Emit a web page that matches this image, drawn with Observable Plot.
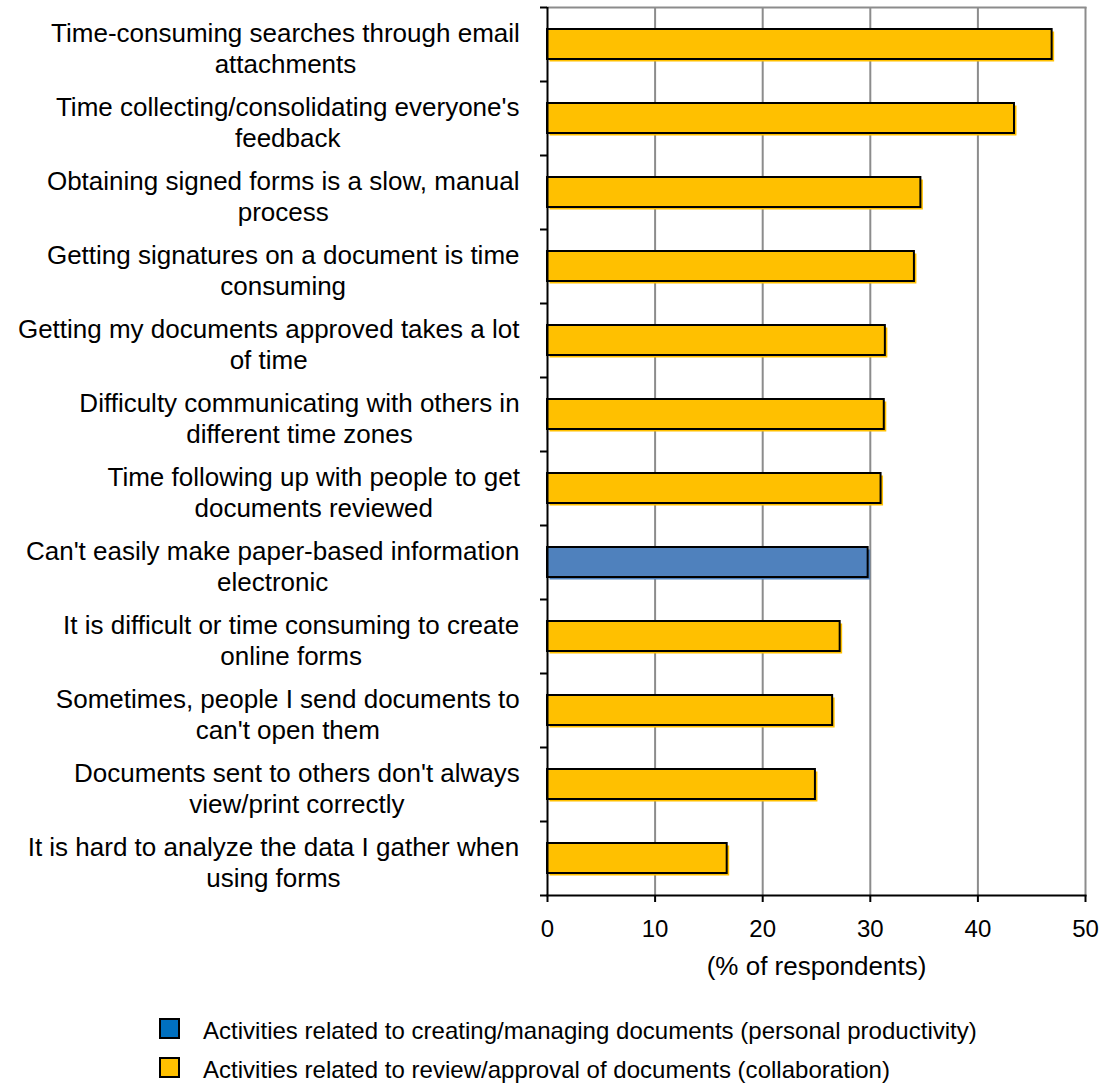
<!DOCTYPE html>
<html>
<head>
<meta charset="utf-8">
<script src="https://cdn.jsdelivr.net/npm/d3@7"></script>
<script src="https://cdn.jsdelivr.net/npm/@observablehq/plot@0.6"></script>
<style>
  html, body { margin: 0; padding: 0; background: #fff; overflow: hidden; }
  body { font-family: "Liberation Sans", Arial, sans-serif; color: #000; }
  #legend { padding-left: 159px; padding-top: 9px; }
  .row { display: flex; align-items: center; height: 39px; }
  .sw { box-sizing: border-box; width: 21px; height: 21px; border: 2px solid #000; flex: none; }
  .lt { margin-left: 23px; font-size: 24px; position: relative; top: 2px; white-space: nowrap; letter-spacing: 0.02px; }
</style>
</head>
<body>
<div id="chart"></div>
<div id="legend"></div>
<script>
// ---- data ----
const categories = [
  "Time-consuming searches through email\nattachments",
  "Time collecting/consolidating everyone's\nfeedback",
  "Obtaining signed forms is a slow, manual\nprocess",
  "Getting signatures on a document is time\nconsuming",
  "Getting my documents approved takes a lot\nof time",
  "Difficulty communicating with others in\ndifferent time zones",
  "Time following up with people to get\ndocuments reviewed",
  "Can't easily make paper-based information\nelectronic",
  "It is difficult or time consuming to create\nonline forms",
  "Sometimes, people I send documents to\ncan't open them",
  "Documents sent to others don't always\nview/print correctly",
  "It is hard to analyze the data I gather when\nusing forms"
];
const values = [46.9, 43.4, 34.7, 34.1, 31.4, 31.3, 31.0, 29.8, 27.2, 26.5, 24.9, 16.7];
const groups = ["collab", "collab", "collab", "collab", "collab", "collab", "collab",
                "personal", "collab", "collab", "collab", "collab"];
const groupKeys = ["personal", "collab"];
const groupNames = [
  "Activities related to creating/managing documents (personal productivity)",
  "Activities related to review/approval of documents (collaboration)"
];
const barColors = ["#4F81BD", "#FFC000"];
const legendColors = ["#0070C0", "#FFC000"];
const xTicks = [0, 10, 20, 30, 40, 50];
const gridTicks = [10, 20, 30, 40, 50];
const xLabel = "(% of respondents)";

const data = categories.map((c, i) => ({category: c, value: values[i], group: groups[i]}));

// ---- layout ----
const W = 1106, H = 1000;
const mL = 547, mR = 21, mT = 7, mB = 105;
const step = (H - mT - mB) / categories.length;
const labelFont = 26;
const labelSpacing = 0.2;
const fontFamily = "'Liberation Sans', Arial, sans-serif";

const ctx = document.createElement("canvas").getContext("2d");
ctx.font = `${labelFont}px ${fontFamily}`;
const blockWidth = c => Math.max(...c.split("\n").map(l => ctx.measureText(l).width + l.length * labelSpacing));

const labelMarks = categories.map(c =>
  Plot.text([c], {
    x: () => 0, y: d => d, text: d => d,
    textAnchor: "middle", lineAnchor: "middle",
    fontSize: labelFont, lineHeight: 31 / labelFont, letterSpacing: `${labelSpacing}px`,
    dx: -(24 + blockWidth(c) / 2), dy: 3, fill: "#000"
  })
);

const chart = Plot.plot({
  width: W, height: H,
  marginLeft: mL, marginRight: mR, marginTop: mT, marginBottom: mB,
  style: {fontFamily, background: "#fff", color: "#000", overflow: "visible"},
  x: {domain: [0, 50]},
  y: {domain: categories, paddingInner: 0.6, paddingOuter: 0.3, axis: null},
  color: {domain: groupKeys, range: barColors},
  marks: [
    Plot.ruleX(gridTicks, {stroke: "#8c8c8c", strokeWidth: 2}),
    Plot.frame({anchor: "top", stroke: "#8c8c8c", strokeWidth: 2}),
    Plot.barX(data, {x: "value", y: "category", fill: "group", dx: 2.5, dy: 2.5}),
    Plot.barX(data, {x: "value", y: "category", fill: "group", stroke: "#000", strokeWidth: 2}),
    Plot.ruleX([0], {stroke: "#000", strokeWidth: 2}),
    Plot.frame({anchor: "bottom", stroke: "#000", strokeWidth: 2}),
    Plot.ruleY(categories, {y: d => d, x1: () => 0, x2: () => 0, insetLeft: -7, dy: -step / 2, stroke: "#000", strokeWidth: 2}),
    Plot.ruleY(categories.slice(-1), {y: d => d, x1: () => 0, x2: () => 0, insetLeft: -7, dy: step / 2, stroke: "#000", strokeWidth: 2}),
    Plot.axisX(xTicks, {tickSize: 7, tickPadding: 17, fontSize: 24, strokeWidth: 2, stroke: "#000", fill: "#000", label: null}),
    Plot.text([xLabel], {frameAnchor: "bottom", text: d => d, dy: 79, fontSize: 26, letterSpacing: "0.3px", fill: "#000"}),
    ...labelMarks
  ]
});
document.getElementById("chart").appendChild(chart);

// ---- legend ----
const legend = document.getElementById("legend");
groupNames.forEach((name, i) => {
  const row = document.createElement("div");
  row.className = "row";
  const sw = document.createElement("span");
  sw.className = "sw";
  sw.style.background = legendColors[i];
  const t = document.createElement("span");
  t.className = "lt";
  t.textContent = name;
  row.appendChild(sw);
  row.appendChild(t);
  legend.appendChild(row);
});
</script>
</body>
</html>
